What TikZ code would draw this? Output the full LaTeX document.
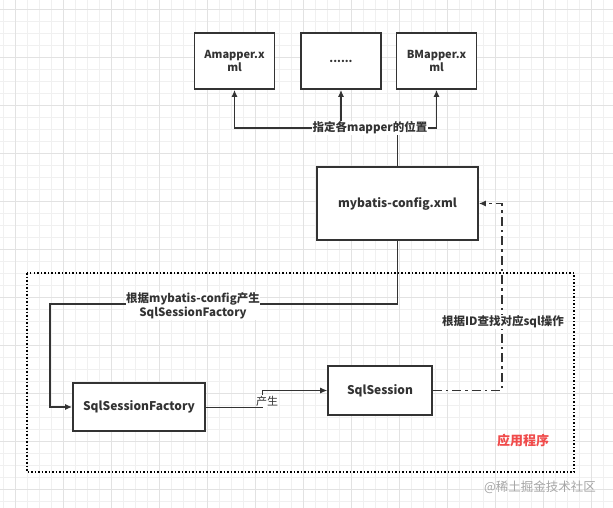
\documentclass[tikz,border=0pt]{standalone}
\usepackage{fontspec}
\setmainfont{Noto Sans CJK SC}
\usetikzlibrary{arrows.meta}
\definecolor{gridminor}{HTML}{F0F0F0}
\definecolor{gridmajor}{HTML}{E2E2E2}
\definecolor{ink}{HTML}{333333}
\definecolor{appred}{HTML}{F04B4B}
\tikzset{
  box/.style={draw=ink, line width=1.6pt, fill=white, align=center, inner sep=0pt, font=\fontsize{11}{13}\selectfont\bfseries, text=ink},
  conn/.style={draw=ink, line width=1.6pt, -{Latex[length=7pt,width=6pt]}},
  thinconn/.style={draw=ink, line width=1pt, -{Latex[length=7pt,width=6pt]}},
  ddconn/.style={draw=ink, line width=1.5pt, dash pattern=on 9pt off 4pt on 2.5pt off 4pt, -{Latex[length=7pt,width=6pt]}},
  lbl/.style={fill=white, inner sep=1pt, align=center, text=ink, font=\fontsize{11.5}{14}\selectfont\bfseries},
}
\begin{document}
\begin{tikzpicture}[x=1pt,y=-1pt]
\useasboundingbox (0,0) rectangle (613,508);
\fill[white] (0,0) rectangle (613,508);
% grid
\foreach \x in {3,15,...,613} \draw[gridminor, line width=0.6pt] (\x,0) -- (\x,508);
\foreach \y in {9,21,...,508} \draw[gridminor, line width=0.6pt] (0,\y) -- (613,\y);
\foreach \x in {15,63,...,613} \draw[gridmajor, line width=0.8pt] (\x,0) -- (\x,508);
\foreach \y in {9,57,...,508} \draw[gridmajor, line width=0.8pt] (0,\y) -- (613,\y);
% application region
\draw[black, line width=1.5pt, dash pattern=on 1.5pt off 2pt] (27,273) rectangle (574,472);
% boxes
\node[box, minimum width=80pt, minimum height=56pt] (am) at (234.5,61) {Amapper.x\\ml};
\node[box, minimum width=80pt, minimum height=56pt] (dots) at (341,61) {......};
\node[box, minimum width=80pt, minimum height=56pt] (bm) at (436.5,61) {BMapper.x\\ml};
\node[box, minimum width=161pt, minimum height=73pt, font=\fontsize{12}{14}\selectfont\bfseries] (cfg) at (397.5,203.5) {mybatis-config.xml};
\node[box, minimum width=132pt, minimum height=48pt, font=\fontsize{12}{14}\selectfont\bfseries] (ssf) at (139,407) {SqlSessionFactory};
\node[box, minimum width=104pt, minimum height=49pt, font=\fontsize{12}{14}\selectfont\bfseries] (ss) at (380,390.5) {SqlSession};
% mapper connectors
\coordinate (hub) at (cfg.north |- 0,128);
\draw[draw=ink, line width=1.6pt] (cfg.north) -- (hub);
\draw[conn] (hub) -| (am.south);
\draw[conn] (hub) -| (bm.south);
\draw[conn] (dots.south |- hub) -- (dots.south);
\node[lbl] (lmap) at (370,128) {指定各mapper的位置};
% config to factory
\coordinate (c1) at (cfg.south |- 0,304);
\coordinate (c2) at (50,304);
\draw[conn] (cfg.south) -- (c1) -- (c2) |- (ssf.west);
\node[lbl, inner sep=0.5pt] (lfac) at (193,306) {根据mybatis-config产生\\SqlSessionFactory};
% factory to session
\coordinate (s1) at (262,407);
\draw[thinconn] (ssf.east) -- (s1) |- (ss.west);
\node[fill=white, inner sep=0.5pt, text=ink, font=\fontsize{11}{12}\selectfont] (lprod) at (267,401) {产生};
% session to config
\coordinate (d1) at (502,390.5);
\draw[ddconn] (ss.east) -- (d1) |- (cfg.east);
\node[lbl] (lid) at (503,322) {根据ID查找对应sql操作};
% labels
\node[text=appred, font=\fontsize{13}{15}\selectfont\bfseries] (app) at (523,441) {应用程序};
\node[text=black!35, font=\fontsize{12.5}{14}\selectfont] (wm) at (540,487) {@稀土掘金技术社区};
\end{tikzpicture}
\end{document}
